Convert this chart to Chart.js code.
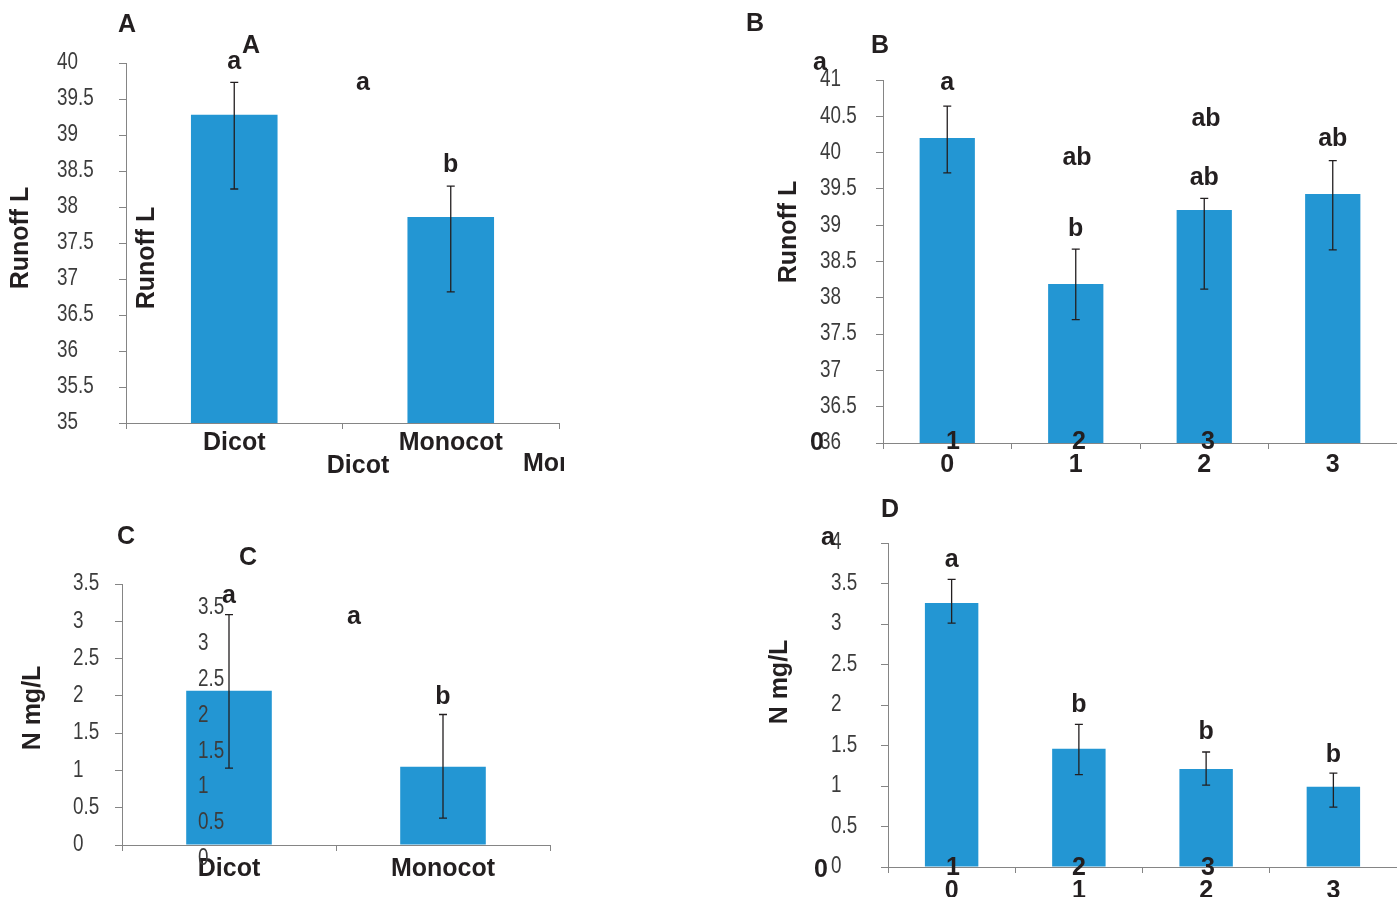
<!DOCTYPE html>
<html>
<head>
<meta charset="utf-8">
<title>Runoff and N by plant type and level</title>
<script src="https://cdn.jsdelivr.net/npm/chart.js@4.4.1/dist/chart.umd.min.js"></script>
<style>
    html, body { margin: 0; padding: 0; background: #fff; }
    body { width: 1397px; height: 901px; position: relative; overflow: hidden; }
    canvas { position: absolute; }
</style>
</head>
<body>
<canvas id="chartA" width="580" height="490" style="left:0;top:0"></canvas>
<canvas id="chartB" width="657" height="490" style="left:740px;top:0"></canvas>
<canvas id="chartC" width="580" height="411" style="left:0;top:490px"></canvas>
<canvas id="chartD" width="657" height="411" style="left:740px;top:490px"></canvas>
<script>
// ---- data ----
const plantTypes = ["Dicot", "Monocot"];
const levels     = ["0", "1", "2", "3"];

// A: runoff by plant type
const runoffByType         = [39.28, 37.86];
const runoffByTypeHi       = [39.73, 38.29];
const runoffByTypeLo       = [38.25, 36.82];
const runoffByTypeLetters  = ["a", "b"];
const runoffByTypeLetterAt = [40.01, 38.58];

// B: runoff by level
const runoffByLevel         = [40.20, 38.19, 39.21, 39.43];
const runoffByLevelHi       = [40.64, 38.67, 39.37, 39.89];
const runoffByLevelLo       = [39.72, 37.70, 38.12, 38.66];
const runoffByLevelLetters  = ["a", "b", "ab", "ab"];
const runoffByLevelLetterAt = [40.96, 38.95, 39.65, 40.19];

// C: N by plant type
const nitrogenByType         = [2.07, 1.05];
const nitrogenByTypeHi       = [3.09, 1.75];
const nitrogenByTypeLo       = [1.03, 0.36];
const nitrogenByTypeLetters  = ["a", "b"];
const nitrogenByTypeLetterAt = [3.34, 1.98];

// D: N by level
const nitrogenByLevel         = [3.26, 1.46, 1.21, 0.99];
const nitrogenByLevelHi       = [3.55, 1.76, 1.42, 1.16];
const nitrogenByLevelLo       = [3.01, 1.14, 1.01, 0.74];
const nitrogenByLevelLetters  = ["a", "b", "b", "b"];
const nitrogenByLevelLetterAt = [3.79, 2.00, 1.66, 1.38];

// ghost tick labels left over in panel C
const ghostTicksC = ["3.5", "3", "2.5", "2", "1.5", "1", "0.5", "0"];


const BLUE   = "#2396d3";
const AXIS   = "#858585";
const INK    = "#231f20";
const TICKC  = "#3c3c3c";
const SANS   = "'Liberation Sans', Arial, sans-serif";
const BOLD_FONT = `bold 25px ${SANS}`;
const TICK_FONT = `23px ${SANS}`;
const NARROW_X  = 0.82;   // squeeze to look like Arial Narrow


// draws a string horizontally squeezed, left aligned at x
function narrowText(ctx, t, x, y){
    ctx.save();
    ctx.font = TICK_FONT;
    ctx.fillStyle = TICKC;
    ctx.textAlign = "left";
    ctx.textBaseline = "middle";
    ctx.translate(x, y);
    ctx.scale(NARROW_X, 1);
    ctx.fillText(t, 0, 0);
    ctx.restore();
}

// y tick labels, taken from the library's own scale ticks
const narrowTicks = {
    id: "narrowTicks",
    afterDraw(chart){
        const yS = chart.scales.y;
        yS.ticks.forEach(tk => {
            narrowText(chart.ctx, String(tk.value), yS.left, yS.getPixelForValue(tk.value));
        });
    }
};

function errorBarPlugin(hi, lo, letters, letterAt){
    return {
        id: "errorBars",
        afterDatasetsDraw(chart){
            const ctx  = chart.ctx;
            const yS   = chart.scales.y;
            const bars = chart.getDatasetMeta(0).data;
            ctx.save();
            ctx.strokeStyle = INK;
            ctx.lineWidth = 1.3;
            bars.forEach((bar, i) => {
                const top = yS.getPixelForValue(hi[i]);
                const bot = yS.getPixelForValue(lo[i]);
                ctx.beginPath();
                ctx.moveTo(bar.x, top);     ctx.lineTo(bar.x, bot);
                ctx.moveTo(bar.x - 4, top); ctx.lineTo(bar.x + 4, top);
                ctx.moveTo(bar.x - 4, bot); ctx.lineTo(bar.x + 4, bot);
                ctx.stroke();
            });
            ctx.fillStyle = INK;
            ctx.font = BOLD_FONT;
            ctx.textAlign = "center";
            ctx.textBaseline = "middle";
            letters.forEach((t, i) => {
                ctx.fillText(t, bars[i].x, yS.getPixelForValue(letterAt[i]));
            });
            ctx.restore();
        }
    };
}

// panel letters, axis titles and the stray offset copies of labels
function overlayPlugin(items){
    return {
        id: "overlayText",
        afterDraw(chart){
            const ctx = chart.ctx;
            items.forEach(it => {
                if(it.narrow){
                    narrowText(ctx, it.t, it.x, it.y);
                    return;
                }
                ctx.save();
                if(it.clip){
                    ctx.beginPath();
                    ctx.rect(0, 0, it.clip, chart.height);
                    ctx.clip();
                }
                ctx.fillStyle = INK;
                ctx.font = BOLD_FONT;
                ctx.textAlign = "center";
                ctx.textBaseline = "middle";
                ctx.translate(it.x, it.y);
                if(it.rot) ctx.rotate(it.rot * Math.PI / 180);
                ctx.fillText(it.t, 0, 0);
                ctx.restore();
            });
        }
    };
}


function buildPanel(id, cfg){
    return new Chart(document.getElementById(id), {
        type: "bar",
        data: {
            labels: cfg.labels,
            datasets: [{
                data: cfg.values,
                backgroundColor: BLUE,
                borderWidth: 0,
                barPercentage: cfg.barPct,
                categoryPercentage: 1
            }]
        },
        options: {
            responsive: false,
            animation: false,
            devicePixelRatio: 1,
            layout: { padding: cfg.padding },
            plugins: {
                legend:  { display: false },
                tooltip: { enabled: false }
            },
            scales: {
                x: {
                    grid:   { drawOnChartArea: false, tickLength: 6, color: AXIS },
                    border: { color: AXIS, width: 1 },
                    ticks:  {
                        color: INK,
                        padding: cfg.xPad,
                        maxRotation: 0,
                        autoSkip: false,
                        font: { family: SANS, size: 25, weight: "bold", lineHeight: 1 }
                    },
                    afterFit: s => { s.height = cfg.xHeight; }
                },
                y: {
                    min: cfg.min,
                    max: cfg.max,
                    grid:   { drawOnChartArea: false, tickLength: 7, color: AXIS },
                    border: { color: AXIS, width: 1 },
                    ticks:  { stepSize: 0.5, display: false },
                    afterFit: s => { s.width = cfg.yWidth; }
                }
            }
        },
        plugins: [
            errorBarPlugin(cfg.hi, cfg.lo, cfg.letters, cfg.letterAt),
            narrowTicks,
            overlayPlugin(cfg.texts)
        ]
    });
}


buildPanel("chartA", {
    labels: plantTypes, values: runoffByType,
    hi: runoffByTypeHi, lo: runoffByTypeLo,
    letters: runoffByTypeLetters, letterAt: runoffByTypeLetterAt,
    min: 35, max: 40, barPct: 0.40,
    padding: { left: 57, top: 63, right: 21, bottom: 27 },
    yWidth: 69, xHeight: 40, xPad: 2,
    texts: [
        { t: "A", x: 127, y: 25 },
        { t: "A", x: 251, y: 46 },
        { t: "Runoff L", x: 21,  y: 238, rot: -90 },
        { t: "Runoff L", x: 147, y: 258, rot: -90 },
        { t: "a", x: 363, y: 83 },
        { t: "Dicot", x: 358, y: 466 },
        { t: "Monocot", x: 575, y: 464, clip: 564 }
    ]
});

buildPanel("chartB", {
    labels: levels, values: runoffByLevel,
    hi: runoffByLevelHi, lo: runoffByLevelLo,
    letters: runoffByLevelLetters, letterAt: runoffByLevelLetterAt,
    min: 36, max: 41, barPct: 0.43,
    padding: { left: 80, top: 80, right: 0, bottom: 7 },
    yWidth: 63, xHeight: 40, xPad: 4,
    texts: [
        { t: "B", x: 15,  y: 24 },
        { t: "B", x: 140, y: 46 },
        { t: "Runoff L", x: 49, y: 232, rot: -90 },
        { t: "a",  x: 80,  y: 63 },
        { t: "ab", x: 337, y: 158 },
        { t: "ab", x: 466, y: 119 },
        { t: "0", x: 77,  y: 443 },
        { t: "1", x: 213, y: 442 },
        { t: "2", x: 339, y: 442 },
        { t: "3", x: 468, y: 442 }
    ]
});

buildPanel("chartC", {
    labels: plantTypes, values: nitrogenByType,
    hi: nitrogenByTypeHi, lo: nitrogenByTypeLo,
    letters: nitrogenByTypeLetters, letterAt: nitrogenByTypeLetterAt,
    min: 0, max: 3.5, barPct: 0.40,
    padding: { left: 73, top: 94, right: 30, bottom: 16 },
    yWidth: 49, xHeight: 40, xPad: 6,
    texts: [
        { t: "C", x: 126, y: 47 },
        { t: "C", x: 248, y: 68 },
        { t: "N mg/L", x: 33, y: 218, rot: -90 },
        { t: "a", x: 354, y: 127 }
    ].concat(ghostTicksC.map((t, i) => ({
        t, x: 198, y: 118 + i * 35.8, narrow: true
    })))
});

buildPanel("chartD", {
    labels: levels, values: nitrogenByLevel,
    hi: nitrogenByLevelHi, lo: nitrogenByLevelLo,
    letters: nitrogenByLevelLetters, letterAt: nitrogenByLevelLetterAt,
    min: 0, max: 4, barPct: 0.42,
    padding: { left: 91, top: 53, right: 0, bottom: 4 },
    yWidth: 57, xHeight: 30, xPad: 6,
    texts: [
        { t: "D", x: 150, y: 20 },
        { t: "N mg/L", x: 40, y: 192, rot: -90 },
        { t: "a", x: 88, y: 48 },
        { t: "0", x: 81,  y: 380 },
        { t: "1", x: 213, y: 378 },
        { t: "2", x: 339, y: 378 },
        { t: "3", x: 468, y: 378 }
    ]
});
</script>
</body>
</html>
